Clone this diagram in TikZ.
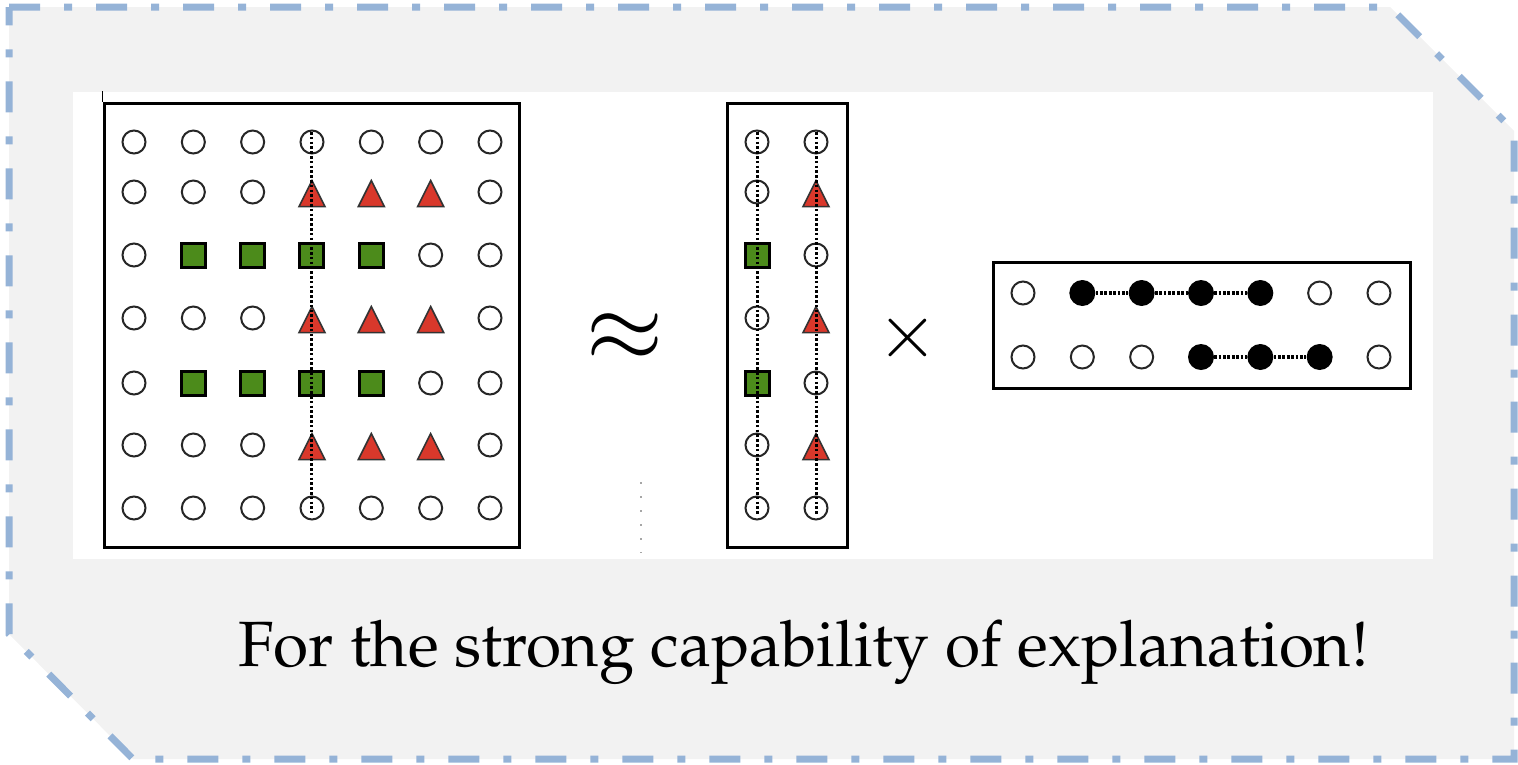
\documentclass[tikz,border=0pt]{standalone}
\usepackage[T1]{fontenc}
\usepackage{mathpazo}
\usetikzlibrary{shapes.geometric,calc}
\definecolor{bordercol}{RGB}{149,179,215}
\definecolor{panelgray}{RGB}{242,242,242}
\definecolor{tred}{RGB}{217,56,43}
\definecolor{sgreen}{RGB}{76,139,27}
\tikzset{
 sho/.style={circle, draw=black!85, line width=2pt, minimum size=23pt, inner sep=0pt},
 shf/.style={circle, fill=black, minimum size=26pt, inner sep=0pt},
 shs/.style={rectangle, draw=black, fill=sgreen, line width=3pt, minimum size=24pt, inner sep=0pt},
 sht/.style={isosceles triangle, isosceles triangle stretches, shape border rotate=90, draw=black!80, fill=tred, line width=1.6pt, minimum width=26pt, minimum height=26pt, inner sep=0pt, anchor=apex, yshift=13.5pt},
 framebox/.style={draw=black, line width=3pt, inner sep=0pt},
 vdots/.style={line width=3pt, dash pattern=on 2.6pt off 2.2pt},
 hdots/.style={line width=4pt, dash pattern=on 2.8pt off 1.6pt},
 border/.style={draw=bordercol, fill=panelgray, line width=7pt, dash pattern=on 31pt off 24pt on 8pt off 24pt},
}
\begin{document}
\begin{tikzpicture}[x=1pt,y=-1pt]
\useasboundingbox (0,0) rectangle (1518,764);
\path[border] (9,7) -- (1390,7) -- (1514,131) -- (1514,759) -- (133,759) -- (9,634) -- cycle;
\fill[white] (73,92) rectangle (1433,559);
% frames
\node[framebox, minimum width=415pt, minimum height=444pt] (big) at (311.5,325) {};
\draw[line width=1.5pt] (big.north west) -- ++(0,-11);
\node[framebox, minimum width=120pt, minimum height=444pt] (mid) at (787,325) {};
\node[framebox, minimum width=417pt, minimum height=126pt] (fac) at (1201.5,325) {};
% big grid
\foreach \row/\yy [count=\r] in {{o,o,o,o,o,o,o}/142, {o,o,o,t,t,t,o}/192, {o,s,s,s,s,o,o}/255, {o,o,o,t,t,t,o}/318, {o,s,s,s,s,o,o}/383, {o,o,o,t,t,t,o}/445, {o,o,o,o,o,o,o}/508}{
  \foreach \k [count=\c] in \row {
    \node[sh\k] (g\r-\c) at ({134+(\c-1)*59.33},\yy) {};
  }
}
% middle columns
\foreach \k/\yy [count=\r] in {o/142,o/192,s/255,o/318,s/383,o/445,o/508}{
  \node[sh\k] (m\r-1) at (757,\yy) {};
}
\foreach \k/\yy [count=\r] in {o/142,t/192,o/255,t/318,o/383,t/445,o/508}{
  \node[sh\k] (m\r-2) at (816,\yy) {};
}
% factor rows
\foreach \row/\yy [count=\r] in {{o,f,f,f,f,o,o}/293, {o,o,o,f,f,f,o}/357}{
  \foreach \k [count=\c] in \row {
    \node[sh\k] (f\r-\c) at ({1023+(\c-1)*59.33},\yy) {};
  }
}
% dotted connections
\draw[vdots, shorten <=-10pt, shorten >=-5pt] (g1-4.center) -- (g7-4.center);
\draw[vdots, shorten <=-10pt, shorten >=-6pt] (m1-1.center) -- (m7-1.center);
\draw[vdots, shorten <=-10pt, shorten >=-6pt] (m1-2.center) -- (m7-2.center);
\draw[hdots] (f1-2) -- (f1-3);
\draw[hdots] (f1-3) -- (f1-4);
\draw[hdots] (f1-4) -- (f1-5);
\draw[hdots] (f2-4) -- (f2-5);
\draw[hdots] (f2-5) -- (f2-6);
% faint dotted mark
\coordinate (fa) at (641,482);
\coordinate (fb) at (641,553);
\draw[black!35, line width=1.5pt, dash pattern=on 1.5pt off 12.5pt] (fa) -- (fb);
% operators
\node[inner sep=0pt] (approx) at (625,338) {\fontsize{95}{95}\selectfont$\approx$};
\node[inner sep=0pt] (times) at (908,338) {\fontsize{75}{75}\selectfont$\times$};
% caption
\node[anchor=base west, inner sep=0pt] (cap) at (238,666) {\fontsize{64}{76}\selectfont For the strong capability of explanation!};
\end{tikzpicture}
\end{document}
